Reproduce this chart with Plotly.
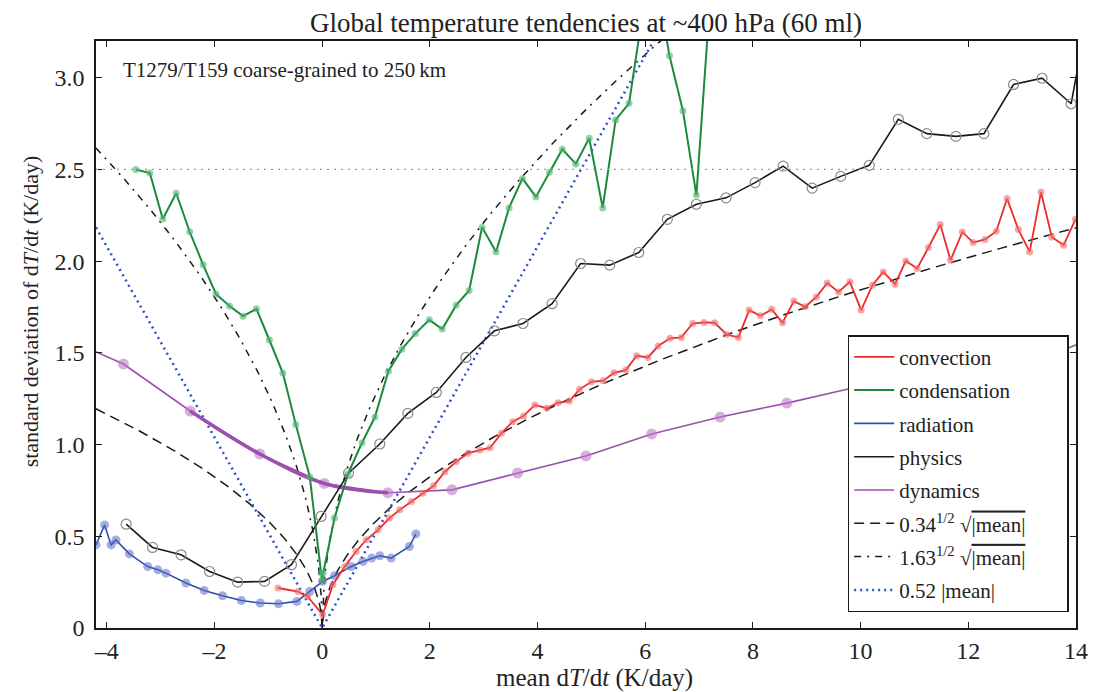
import numpy as np
import plotly.graph_objects as go

# =============================================================================
# DATA — values
# =============================================================================

CONV_X = [-0.82, -0.45, -0.27, 0.01, 0.20, 0.42, 0.63, 0.82, 1.04, 1.25, 1.44,
          1.66, 1.87, 2.07, 2.28, 2.49, 2.71, 2.93, 3.12, 3.33, 3.54, 3.74,
          3.95, 4.17, 4.38, 4.59, 4.78, 5.00, 5.22, 5.42, 5.64, 5.84, 6.05,
          6.24, 6.46, 6.67, 6.88, 7.09, 7.29, 7.51, 7.73, 7.93, 8.14, 8.35,
          8.55, 8.76, 8.97, 9.18, 9.38, 9.59, 9.80, 10.01, 10.22, 10.42, 10.64,
          10.84, 11.05, 11.26, 11.48, 11.67, 11.89, 12.09, 12.31, 12.52, 12.72,
          12.93, 13.14, 13.35, 13.55, 13.77, 13.99]
CONV_Y = [0.218, 0.199, 0.172, 0.072, 0.236, 0.335, 0.417, 0.481, 0.535, 0.599,
          0.644, 0.689, 0.735, 0.775, 0.852, 0.907, 0.953, 0.971, 0.983, 1.062,
          1.125, 1.156, 1.216, 1.198, 1.228, 1.237, 1.301, 1.342, 1.348, 1.391,
          1.406, 1.484, 1.475, 1.537, 1.579, 1.584, 1.660, 1.666, 1.664, 1.600,
          1.584, 1.733, 1.702, 1.737, 1.664, 1.782, 1.751, 1.805, 1.881, 1.832,
          1.887, 1.733, 1.869, 1.941, 1.874, 2.001, 1.960, 2.074, 2.199, 2.005,
          2.159, 2.101, 2.118, 2.163, 2.341, 2.172, 2.050, 2.377, 2.132, 2.087,
          2.228]

COND_X = [-3.46, -3.20, -2.96, -2.71, -2.46, -2.21, -1.97, -1.72, -1.47, -1.22,
          -0.98, -0.73, -0.49, -0.23, -0.02, 0.00, 0.02, 0.23, 0.48, 0.74,
          0.98, 1.23, 1.48, 1.73, 1.99, 2.23, 2.49, 2.73, 2.97, 3.23, 3.47,
          3.72, 3.97, 4.22, 4.46, 4.71, 4.96, 5.21, 5.45, 5.70, 5.95, 6.20,
          6.45, 6.70, 6.95, 7.20, 7.45]
COND_Y = [2.50, 2.48, 2.23, 2.37, 2.16, 1.98, 1.82, 1.755, 1.70, 1.74,
          1.57, 1.39, 1.11, 0.825, 0.30, 0.26, 0.30, 0.60, 0.84, 1.01,
          1.15, 1.40, 1.52, 1.605, 1.68, 1.63, 1.76, 1.84, 2.185, 2.05, 2.29,
          2.45, 2.35, 2.485, 2.61, 2.53, 2.67, 2.29, 2.77, 2.86, 3.35, 3.55,
          3.12, 2.82, 2.36, 3.41, 3.90]

RAD_X = [-4.20, -4.04, -3.92, -3.83, -3.58, -3.24, -3.05, -2.90, -2.53, -2.19,
         -1.85, -1.50, -1.15, -0.81, -0.47, -0.23, 0.01, 0.23, 0.54, 0.76,
         0.92, 1.07, 1.28, 1.62, 1.74]
RAD_Y = [0.453, 0.562, 0.453, 0.480, 0.404, 0.335, 0.317, 0.299, 0.245, 0.205,
         0.176, 0.150, 0.136, 0.132, 0.145, 0.199, 0.254, 0.285, 0.335, 0.363,
         0.381, 0.394, 0.381, 0.444, 0.513]

PHYS_X = [-3.64, -3.15, -2.62, -2.09, -1.57, -1.07, -0.57, -0.02, 0.49, 1.07,
          1.59, 2.12, 2.67, 3.20, 3.73, 4.27, 4.80, 5.34, 5.88, 6.41, 6.95,
          7.50, 8.04, 8.56, 9.10, 9.63, 10.16, 10.70, 11.23, 11.77, 12.29,
          12.84, 13.37, 13.91, 14.44]
PHYS_Y = [0.566, 0.439, 0.399, 0.308, 0.250, 0.254, 0.345, 0.608, 0.844, 1.003,
          1.170, 1.284, 1.475, 1.620, 1.660, 1.768, 1.987, 1.978, 2.047, 2.228,
          2.310, 2.345, 2.428, 2.518, 2.398, 2.462, 2.522, 2.773, 2.695, 2.680,
          2.695, 2.963, 2.997, 2.858, 3.700]

DYN_X = [-4.92, -3.69, -2.45, -1.16, 0.04, 1.22, 2.41, 3.63, 4.90, 6.12, 7.39,
         8.63, 9.87, 11.10, 12.35, 13.60, 14.30]
DYN_Y = [1.600, 1.439, 1.183, 0.949, 0.788, 0.737, 0.753, 0.845, 0.938, 1.058,
         1.150, 1.226, 1.310, 1.380, 1.440, 1.495, 1.580]

# Reference curves: sigma = sqrt(c*|mean|) and sigma = k*|mean|
COEF_SQRT_LOW = 0.34
COEF_SQRT_HIGH = 1.63
COEF_LINEAR = 0.52
REF_LEVEL = 2.5

X_TICKS = [-4, -2, 0, 2, 4, 6, 8, 10, 12, 14]
X_TICK_LABELS = ["\u20134", "\u20132", "0", "2", "4", "6", "8", "10", "12", "14"]
Y_TICKS = [0, 0.5, 1.0, 1.5, 2.0, 2.5, 3.0]
Y_TICK_LABELS = ["0", "0.5", "1.0", "1.5", "2.0", "2.5", "3.0"]

# =============================================================================
# STYLE
# =============================================================================

FONT = "Liberation Serif"
INK = "#222222"
RED = "#ee2a2a"
GREEN = "#1c8a3c"
BLUE = "#2c50a8"
BLACK = "#1a1a1a"
PURPLE = "#9c50ae"
DOT_BLUE = "#2a52c8"
NBSP = "\u00a0"


def serie(fig, x, y, nome, cor, largura, marker, rank):
    """Line trace for the legend plus a separate marker trace (lines only in legend)."""
    fig.add_trace(go.Scatter(
        x=x, y=y, mode="lines", name=nome, legendrank=rank,
        legendgroup=nome, line=dict(color=cor, width=largura),
    ))
    fig.add_trace(go.Scatter(
        x=x, y=y, mode="markers", showlegend=False, legendgroup=nome,
        marker=marker, hoverinfo="skip",
    ))


fig = go.Figure()

# horizontal dotted reference level
fig.add_hline(y=REF_LEVEL, line=dict(color="#9a9a9a", width=1.3, dash="2px,5px"))

# analytic reference curves
ref_x = np.union1d(np.linspace(-4.2, 14.0, 911), [0.0])
sqrt_txt = "\u221a<span style='text-decoration:overline'>|mean|</span>"
fig.add_trace(go.Scatter(
    x=ref_x, y=np.sqrt(COEF_SQRT_LOW * np.abs(ref_x)), mode="lines",
    name="0.34<sup>1/2</sup> " + sqrt_txt, legendrank=6, legendgroup="r1",
    line=dict(color=BLACK, width=1.5, dash="10px,6px"),
))
fig.add_trace(go.Scatter(
    x=ref_x, y=np.sqrt(COEF_SQRT_HIGH * np.abs(ref_x)), mode="lines",
    # trailing spaces widen the legend box like in the original
    name="1.63<sup>1/2</sup> " + sqrt_txt + NBSP * 7, legendrank=7, legendgroup="r2",
    line=dict(color=BLACK, width=1.5, dash="7px,6px,2px,6px"),
))
fig.add_trace(go.Scatter(
    x=ref_x, y=COEF_LINEAR * np.abs(ref_x), mode="lines",
    name="0.52 |mean|", legendrank=8, legendgroup="r3",
    line=dict(color=DOT_BLUE, width=2.5, dash="2px,4px"),
))

# data series
serie(fig, DYN_X, DYN_Y, "dynamics", PURPLE, 1.6,
      dict(size=11, color="rgba(190,120,200,0.6)"), 5)
# thicker stretch of the dynamics curve near its minimum
fig.add_trace(go.Scatter(
    x=DYN_X[2:6], y=DYN_Y[2:6], mode="lines", showlegend=False,
    line=dict(color=PURPLE, width=3.5, shape="spline"), hoverinfo="skip",
))
serie(fig, PHYS_X, PHYS_Y, "physics", BLACK, 1.6,
      dict(size=10, color="rgba(0,0,0,0)", line=dict(color="#8a8a8a", width=1.2)), 4)
serie(fig, RAD_X, RAD_Y, "radiation", BLUE, 1.6,
      dict(size=9, color="rgba(90,110,200,0.55)"), 3)
serie(fig, COND_X, COND_Y, "condensation", GREEN, 2.0,
      dict(size=7, color="rgba(80,180,110,0.6)"), 2)
serie(fig, CONV_X, CONV_Y, "convection", RED, 1.8,
      dict(size=7, color="rgba(240,110,110,0.6)"), 1)

# =============================================================================
# TEXTS — panel label and axis titles (placed as annotations)
# =============================================================================

fig.add_annotation(
    text="T1279/T159 coarse-grained to 250\u2009km",
    xref="paper", yref="paper", x=0.025, y=0.95,
    xanchor="left", yanchor="middle", showarrow=False,
    font=dict(family=FONT, size=21, color=INK),
)
fig.add_annotation(
    text="mean d<i>T</i>/d<i>t</i> (K/day)",
    xref="paper", yref="paper", x=0.509, y=-0.085,
    xanchor="center", yanchor="middle", showarrow=False,
    font=dict(family=FONT, size=25, color=INK),
)
fig.add_annotation(
    text="standard deviation of d<i>T</i>/d<i>t</i> (K/day)",
    xref="paper", yref="paper", x=-0.067, y=0.54, textangle=-90,
    xanchor="center", yanchor="middle", showarrow=False,
    font=dict(family=FONT, size=22, color=INK),
)

eixo = dict(
    showline=True, linecolor=BLACK, linewidth=1.5, mirror="ticks",
    ticks="inside", ticklen=6, tickwidth=1.2, tickcolor=BLACK,
    showgrid=False, zeroline=False,
    tickfont=dict(family=FONT, size=24, color=INK),
)

fig.update_xaxes(**eixo, range=[-4.2, 14.0], tickvals=X_TICKS, ticktext=X_TICK_LABELS)
fig.update_yaxes(**eixo, range=[0, 3.2], tickvals=Y_TICKS, ticktext=Y_TICK_LABELS,
                 ticklabelstandoff=5)

# the page body adds an 8px offset, so the figure is 8px smaller each way
fig.update_layout(
    width=1093, height=684,
    margin=dict(l=88, r=25, t=33, b=64),
    paper_bgcolor="white", plot_bgcolor="white",
    font=dict(family=FONT, color=INK),
    title=dict(text="Global temperature tendencies at ~400 hPa (60 ml)",
               xref="paper", x=0.5, xanchor="center",
               yref="container", y=0.992, yanchor="top", pad=dict(t=0),
               font=dict(family=FONT, size=27, color=INK)),
    legend=dict(
        x=0.767, y=0.027, xanchor="left", yanchor="bottom",
        bgcolor="white", bordercolor=BLACK, borderwidth=1.5,
        font=dict(family=FONT, size=21, color=INK),
        tracegroupgap=3, itemwidth=40,
    ),
    showlegend=True,
)

fig.write_html("out.html")
